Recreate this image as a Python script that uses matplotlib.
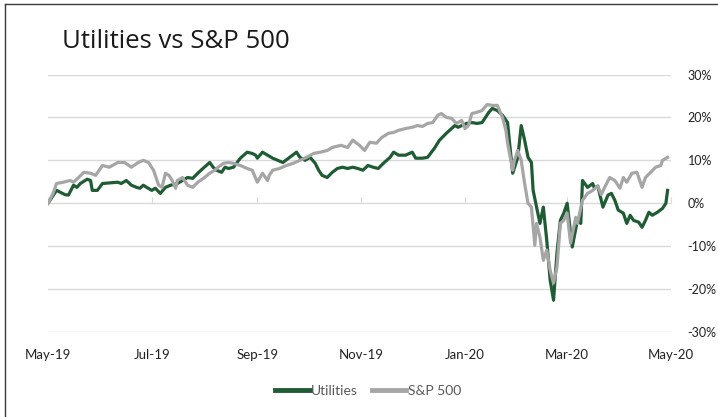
import matplotlib
matplotlib.use("Agg")
import matplotlib.pyplot as plt
import matplotlib.dates as mdates
from matplotlib.lines import Line2D
import numpy as np
import pandas as pd

# days since 2019-05-01 and cumulative return (%)
util_days = [0, 5, 7, 10, 12, 15, 17, 19, 23, 25, 26, 29, 32, 41, 43, 46, 49, 52, 54, 56,
             58, 61, 63, 66, 69, 72, 76, 79, 82, 85, 88, 91, 95, 97, 99, 102, 104, 106, 109, 113,
             117, 120, 122, 123, 126, 129, 132, 135, 138, 142, 146, 148, 151, 154, 157, 159, 161, 164, 167, 170,
             173, 176, 179, 182, 185, 188, 191, 194, 197, 201, 203, 206, 210, 214, 216, 220, 223, 227, 230, 234,
             237, 239, 241, 243, 246, 249, 252, 255, 259, 261, 264, 267, 270, 271, 273, 276, 278, 280, 282, 284,
             285, 287, 289, 291, 293, 295, 297, 299, 301, 303, 305, 307, 308, 311, 313, 314, 317, 320, 321, 323,
             326, 329, 331, 333, 335, 338, 340, 342, 344, 347, 349, 351, 353, 355, 358, 361, 363, 364]
util_vals = [0.0, 3.0, 2.6, 2.0, 1.9, 4.2, 3.7, 4.6, 5.6, 5.3, 3.0, 3.0, 4.6, 4.9, 4.6, 5.3, 4.2, 3.7, 3.5, 4.2,
             3.7, 3.0, 3.5, 2.3, 3.7, 4.2, 4.6, 5.3, 6.0, 5.8, 7.0, 8.1, 9.5, 8.4, 7.7, 7.2, 8.4, 8.1, 8.4, 10.5,
             11.9, 11.6, 11.2, 10.5, 11.9, 11.2, 10.5, 10.0, 9.5, 10.7, 11.9, 10.7, 10.0, 10.7, 9.3, 7.7, 6.5, 6.0, 7.2, 8.1,
             8.4, 8.1, 8.4, 8.1, 7.7, 8.8, 8.4, 8.1, 9.3, 10.7, 11.9, 11.2, 11.2, 11.9, 10.5, 10.5, 10.7, 12.8, 14.7, 16.3,
             17.4, 18.1, 17.7, 18.1, 18.6, 18.8, 18.6, 18.8, 21.2, 22.1, 21.6, 20.5, 18.8, 14.7, 7.0, 10.7, 18.1, 14.7, 10.7, 9.5,
             3.0, -0.9, -4.7, -0.9, -8.6, -17.9, -22.6, -11.6, -4.0, -2.3, 0.0, -7.0, -10.2, -4.0, -4.7, 5.3, 3.7, 4.6, 3.5, 4.0,
             -0.9, 1.9, 2.3, 0.7, -1.6, -2.3, -4.7, -2.8, -4.0, -4.4, -5.6, -4.0, -2.1, -2.8, -2.1, -1.2, 0.0, 3.0]

spx_days = [0, 3, 5, 9, 13, 15, 18, 21, 25, 28, 32, 36, 41, 45, 49, 53, 56, 59, 62, 65,
            67, 69, 71, 73, 75, 76, 79, 82, 85, 88, 92, 95, 98, 100, 103, 106, 109, 113, 117, 120,
            123, 126, 129, 130, 132, 136, 140, 144, 148, 152, 156, 160, 164, 167, 172, 176, 179, 183, 186, 189,
            193, 196, 200, 203, 206, 210, 214, 217, 220, 223, 226, 229, 231, 234, 237, 240, 243, 245, 247, 249,
            252, 255, 258, 261, 264, 267, 269, 270, 273, 274, 276, 278, 280, 282, 284, 286, 287, 289, 291, 293,
            295, 297, 299, 301, 303, 305, 307, 310, 311, 314, 317, 320, 323, 325, 327, 330, 333, 336, 338, 340,
            343, 346, 349, 351, 354, 357, 360, 361, 364]
spx_vals = [0.0, 2.3, 4.6, 4.9, 5.3, 4.9, 6.0, 7.2, 7.0, 6.5, 8.8, 8.4, 9.5, 9.5, 8.4, 9.5, 10.0, 9.5, 7.7, 4.2,
            3.7, 7.0, 6.5, 5.3, 3.5, 5.3, 6.0, 4.2, 3.7, 4.9, 6.0, 7.0, 7.7, 8.4, 9.3, 9.5, 9.3, 8.8, 8.1, 7.7,
            4.9, 7.0, 5.3, 6.5, 7.7, 8.1, 8.8, 9.3, 10.0, 10.7, 11.6, 11.9, 12.3, 13.0, 13.5, 13.0, 14.7, 13.5, 12.3, 14.2,
            14.0, 15.3, 16.3, 16.5, 17.0, 17.4, 17.7, 18.1, 17.9, 18.6, 18.8, 20.5, 20.9, 20.0, 19.8, 18.6, 19.3, 17.4, 18.1, 20.9,
            21.2, 21.6, 23.0, 22.8, 22.8, 20.0, 17.0, 14.0, 7.7, 10.0, 12.3, 10.0, 4.6, 0.0, -0.9, -9.8, -4.7, -7.9, -13.3, -10.9,
            -15.6, -18.6, -14.9, -4.7, -4.0, -2.3, -9.3, -3.3, -4.7, 0.7, 2.3, 3.0, 4.0, 2.0, 3.7, 6.0, 5.3, 3.5, 6.0, 4.9,
            7.0, 7.2, 3.7, 6.0, 7.2, 8.4, 8.8, 10.0, 10.7]

start = pd.Timestamp("2019-05-01")
util_dates = start + pd.to_timedelta(util_days, unit="D")
spx_dates = start + pd.to_timedelta(spx_days, unit="D")

tick_dates = pd.to_datetime(["2019-05-01", "2019-07-01", "2019-09-01", "2019-11-01",
                             "2020-01-01", "2020-03-01", "2020-05-01"])
yticks = [-30, -20, -10, 0, 10, 20, 30]

green = "#1f5c33"
grey = "#a6a6a6"
plt.rcParams['font.family'] = ['Lato', 'DejaVu Sans']

fig = plt.figure(figsize=(7.18, 4.17), dpi=100)
ax = fig.add_axes([48/718, 85/417, 623/718, 257.5/417])

for y in yticks:
    ax.axhline(y, color="#d9d9d9", lw=1.0, zorder=0)

ax.plot(util_dates, np.array(util_vals), color=green, lw=2.3, label="Utilities", solid_joinstyle="round")
ax.plot(spx_dates, np.array(spx_vals), color=grey, lw=2.3, label="S&P 500", solid_joinstyle="round")

ax.set_xlim(tick_dates[0], tick_dates[-1])
ax.set_ylim(-30, 30)
for s in ax.spines.values():
    s.set_visible(False)

ax.set_xticks(tick_dates)
ax.xaxis.set_major_formatter(mdates.DateFormatter("%b-%y"))
ax.tick_params(axis="x", length=0, pad=12, labelsize=9.5, labelcolor="#222222")

ax.yaxis.tick_right()
ax.set_yticks(yticks)
ax.set_yticklabels([f"{v}%" for v in yticks])
ax.tick_params(axis="y", length=0, pad=12, labelsize=9, labelcolor="#222222")

# tick marks sitting on the zero line
sec = ax.secondary_xaxis(0.5)
sec.set_xticks(tick_dates)
sec.set_xticklabels([""] * len(tick_dates))
sec.tick_params(length=4, color="#d9d9d9")
for s in sec.spines.values():
    s.set_visible(False)

leg = fig.legend(loc="center", bbox_to_anchor=(368/718, 1 - 391/417), ncol=2, frameon=False,
                 fontsize=10, handlelength=2.5, handletextpad=0.1, columnspacing=1.0)
for t in leg.get_texts():
    t.set_color("#595959")
for h in leg.legend_handles:
    h.set_linewidth(3.5)

fig.text(62/718, 1 - 42/417, "Utilities vs S&P 500", fontsize=18.5, family="Open Sans",
         va="center", ha="left", color="#1a1a1a")

# outer chart border (cropped on right/bottom)
fig.add_artist(Line2D([5/718, 5/718], [0, 1 - 4/417], color="#3a3a3a", lw=1.0))
fig.add_artist(Line2D([5/718, 1], [1 - 4/417, 1 - 4/417], color="#3a3a3a", lw=1.0))

fig.savefig("out.png", dpi=100)
